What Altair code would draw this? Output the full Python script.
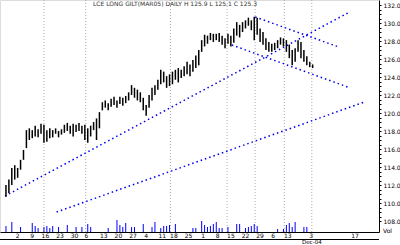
import altair as alt
import pandas as pd

# ---------------- data ----------------
title_text = ["LCE LONG GILT(MAR05) DAILY  H 125.9 L 125.1 C 125.3"]
date_title = ["Dec-04"]
vol_title = ["Vol"]

bar_high = [112.0, 112.6, 113.9, 114.2, 113.9, 114.8, 115.9, 118.1, 118.3, 118.1,
            118.6, 118.2, 118.8, 118.7, 118.1, 118.3, 118.1, 118.3, 118.0, 118.2,
            118.7, 118.9, 118.6, 118.8, 118.7, 118.9, 118.6, 118.7, 118.3, 118.6,
            119.0, 119.4, 120.1, 121.2, 121.4, 121.1, 121.6, 121.8, 121.4, 121.8,
            121.7, 121.9, 122.3, 123.1, 122.8, 122.6, 122.3, 121.7, 120.9, 122.0,
            122.8, 123.1, 123.7, 124.8, 124.6, 124.1, 124.3, 124.6, 124.8, 125.0,
            124.8, 125.2, 125.7, 125.4, 125.9, 126.4, 127.0, 128.1, 128.7, 128.6,
            128.9, 128.8, 128.8, 128.9, 128.6, 128.3, 128.8, 128.6, 129.4, 130.1,
            129.8, 130.1, 130.3, 130.6, 130.3, 130.7, 130.6, 129.4, 129.0, 128.3,
            127.9, 127.7, 127.8, 128.1, 128.4, 128.3, 128.1, 127.6, 127.0, 127.2,
            128.1, 127.9, 127.0, 126.3, 125.7, 125.4]
bar_low = [110.7, 111.1, 112.0, 112.6, 112.8, 113.7, 114.8, 116.1, 117.0, 117.2,
           117.4, 117.3, 117.7, 116.7, 116.8, 117.2, 117.3, 117.7, 117.3, 117.6,
           117.8, 118.0, 117.7, 117.4, 117.9, 118.0, 117.7, 117.0, 116.7, 117.4,
           118.1, 117.0, 118.3, 120.3, 120.6, 120.3, 120.7, 120.9, 120.6, 121.0,
           120.8, 121.1, 121.4, 122.0, 121.7, 121.4, 121.2, 120.3, 119.7, 120.6,
           121.4, 122.0, 122.6, 123.2, 123.4, 122.8, 123.0, 123.2, 123.7, 123.4,
           123.9, 124.1, 124.3, 124.1, 124.6, 125.0, 125.3, 126.8, 127.4, 127.7,
           128.1, 127.9, 128.1, 127.9, 127.6, 127.2, 127.7, 127.4, 127.8, 128.6,
           128.4, 129.0, 129.4, 129.7, 129.2, 128.1, 128.7, 127.9, 127.6, 127.0,
           126.8, 126.8, 127.0, 127.2, 127.6, 127.4, 126.8, 126.1, 125.3, 125.7,
           126.8, 126.1, 125.7, 125.3, 125.1, 125.0]

vol_day = [0, 2, 5, 9, 10, 11, 13, 14, 15, 16, 18, 21, 24, 26, 28, 29, 35, 38, 39, 40,
           41, 43, 44, 47, 50, 51, 53, 54, 55, 56, 58, 64, 65, 67, 68, 69, 70, 71, 72,
           73, 74, 76, 79, 80, 82, 83, 84, 85, 86, 93, 95, 96, 97, 98, 99, 102, 103]
vol_value = [60, 100, 50, 90, 60, 40, 50, 60, 40, 60, 50, 70, 50, 50, 80, 50, 40, 120, 70, 50,
             90, 50, 50, 80, 50, 100, 40, 60, 60, 70, 80, 40, 40, 110, 70, 50, 60, 80, 100,
             40, 40, 50, 80, 80, 40, 50, 60, 80, 60, 30, 30, 70, 90, 50, 100, 50, 50]

trend_id = ["a", "a", "b", "b", "c", "c", "d", "d"]
trend_day = [-0.33, 117, 17.33, 122.67, 85.33, 114, 77.33, 117]
trend_price = [110.78, 131.11, 109.0, 121.22, 130.67, 127.33, 127.56, 122.89]

grid_day = [13, 27.3, 56.3, 75.7, 85.3, 95.3, 104.7]

tick_day = [4, 9, 13.5, 18.5, 23.5, 27.5, 33.5, 38.5, 43.5, 48, 53.5, 57.5, 62.5, 67.5,
            72.5, 77, 82, 87, 91.5, 96.5, 104.5, 119.5]
tick_label = ["2", "9", "16", "23", "30", "6", "13", "20", "27", "4", "11", "18", "25",
              "1", "8", "15", "22", "29", "6", "13", "3", "17"]

price_labels = [132, 130, 128, 126, 124, 122, 120, 118, 116, 114, 112, 110, 108]

price_min, price_max = 106.78, 132.56
vol_max = 2320
# ------------------------------------------------------------

price_df = pd.DataFrame({"day": list(range(len(bar_high))), "high": bar_high, "low": bar_low})
vol_df = pd.DataFrame({"day": vol_day, "vol": vol_value})
trend_df = pd.DataFrame({"id": trend_id, "day": trend_day, "price": trend_price})
grid_df = pd.DataFrame({"day": grid_day})
tick_df = pd.DataFrame({"day": tick_day, "label": tick_label})
one = pd.DataFrame({"k": [0]})

xscale = alt.Scale(domain=[-0.33, 126], nice=False, zero=False)
yscale = alt.Scale(domain=[price_min, price_max], nice=False, zero=False)

y_ticks = [min(price_labels) + 0.5 * i for i in range(4 * (max(price_labels) - min(price_labels)) // 2 + 1)]

yaxis = alt.Axis(orient="right", values=y_ticks, domain=True, domainColor="black",
                 tickColor="black", tickSize=2, grid=False, title=None,
                 labelFontSize=6, labelColor="black", labelPadding=2,
                 labelOverlap=False, labelBound=False,
                 labelExpr="datum.value % 2 == 0 ? format(datum.value, '.1f') : ''")

grid = alt.Chart(grid_df).mark_rule(color="#aaaaaa", strokeDash=[1, 2], strokeWidth=1).encode(
    x=alt.X("day:Q", scale=xscale,
            axis=alt.Axis(orient="bottom", domain=True, domainColor="black", domainWidth=1,
                          labels=False, ticks=False, grid=False, title=None))
)

trend = alt.Chart(trend_df).mark_line(color="#0000ee", strokeDash=[1.5, 3], strokeWidth=1.5).encode(
    x=alt.X("day:Q", scale=xscale),
    y=alt.Y("price:Q", scale=yscale, axis=yaxis),
    detail="id:N",
)

bars = alt.Chart(price_df).mark_rule(color="black", strokeWidth=1.5).encode(
    x=alt.X("day:Q", scale=xscale),
    y=alt.Y("low:Q", scale=yscale, axis=yaxis),
    y2="high:Q",
)

price_layer = alt.layer(trend, bars)

vol = alt.Chart(vol_df).mark_bar(color="#0000ff", width=1).encode(
    x=alt.X("day:Q", scale=xscale),
    y=alt.Y("vol:Q", scale=alt.Scale(domain=[0, vol_max], nice=False), axis=None),
)

ticks_text = alt.Chart(tick_df).mark_text(fontSize=6, baseline="top", color="black").encode(
    x=alt.X("day:Q", scale=xscale),
    y=alt.value(233),
    text="label:N",
)

lower_line = alt.Chart(one).mark_rule(color="black", strokeWidth=1).encode(
    x=alt.value(0), x2=alt.value(379), y=alt.value(239.5)
)

title = alt.Chart(pd.DataFrame({"t": title_text})).mark_text(
    fontSize=6, align="left", baseline="top", color="#333333").encode(
    x=alt.value(93), y=alt.value(1), text="t:N")

date_t = alt.Chart(pd.DataFrame({"t": date_title})).mark_text(
    fontSize=5.5, align="left", baseline="top", color="black").encode(
    x=alt.value(302), y=alt.value(239.5), text="t:N")

vol_t = alt.Chart(pd.DataFrame({"t": vol_title})).mark_text(
    fontSize=6, align="left", baseline="middle", color="black").encode(
    x=alt.value(383), y=alt.value(231), text="t:N")

chart = alt.layer(grid, vol, price_layer, ticks_text, lower_line, title, date_t, vol_t).resolve_scale(
    y="independent"
).properties(
    width=379, height=232,
    autosize=alt.AutoSizeParams(type="none"),
    padding={"left": 0, "top": 0, "right": 21, "bottom": 13},
    background="white",
).configure_view(stroke=None).configure(font="DejaVu Sans").configure_axis(labelOverlap=False)

chart.save("out.html", embed_options={"renderer": "svg", "actions": False})
